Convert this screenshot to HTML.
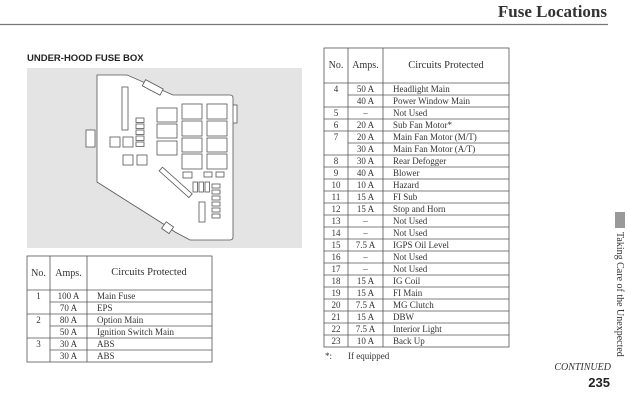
<!DOCTYPE html>
<html><head><style>
html,body{margin:0;padding:0;background:#fff;}
svg{display:block;}
.s{font-family:"Liberation Serif",serif;font-size:9px;fill:#333;}
.c{text-anchor:middle;}
</style></head><body>
<svg width="640" height="414" viewBox="0 0 640 414" xmlns="http://www.w3.org/2000/svg">
<text x="607" y="17" text-anchor="end" font-family="Liberation Serif,serif" font-weight="bold" font-size="17" fill="#333">Fuse Locations</text>
<line x1="0" y1="24.5" x2="608" y2="24.5" stroke="#777" stroke-width="1.2"/>
<text x="27" y="61" font-family="Liberation Sans,sans-serif" font-weight="bold" font-size="9.5" fill="#222">UNDER-HOOD FUSE BOX</text>
<rect x="27" y="68" width="275" height="180" fill="#e4e4e4"/>
<g fill="#fff" stroke="#555" stroke-width="0.8">
<rect x="86" y="130" width="9" height="17"/>
<rect x="231" y="105" width="6" height="18"/>
<path d="M97 75 L127 75 L173 95 L230 95 Q233 95 233 98 L233 237 Q233 240 230 240 L190 240 L175 232 L165 225 L97 182 Z"/>
<rect x="143" y="84" width="20" height="7" transform="rotate(28 153 87)"/>
<rect x="122" y="87" width="6" height="43"/>
<rect x="136" y="118" width="8" height="4.5"/><rect x="136" y="124" width="8" height="4.5"/><rect x="136" y="130" width="8" height="4.5"/><rect x="136" y="136" width="8" height="4.5"/><rect x="136" y="142" width="8" height="4.5"/>
<rect x="110" y="137" width="10" height="10"/><rect x="123" y="137" width="10" height="10"/>
<rect x="123" y="155" width="10" height="10"/><rect x="137" y="155" width="10" height="10"/>
<rect x="157" y="108" width="20" height="14"/><rect x="157" y="124" width="20" height="14"/><rect x="157" y="141" width="20" height="14"/>
<rect x="182" y="104" width="20" height="15"/><rect x="182" y="121" width="20" height="15"/><rect x="182" y="138" width="20" height="14"/><rect x="182" y="154" width="20" height="15"/>
<rect x="207" y="104" width="20" height="15"/><rect x="207" y="121" width="20" height="15"/><rect x="207" y="138" width="20" height="14"/><rect x="207" y="154" width="20" height="15"/>
<rect x="183" y="172" width="9" height="6"/><rect x="204" y="172" width="8" height="5"/><rect x="216" y="172" width="8" height="5"/>
<rect x="156" y="180" width="40" height="5" transform="rotate(42 176 182)"/>
<rect x="193" y="182" width="4.5" height="10"/><rect x="199" y="182" width="4.5" height="10"/><rect x="205" y="182" width="4.5" height="10"/>
<rect x="212" y="184" width="8" height="4"/><rect x="212" y="190" width="8" height="4"/><rect x="212" y="196" width="8" height="4"/><rect x="212" y="202" width="8" height="4"/><rect x="212" y="208" width="8" height="4"/><rect x="212" y="214" width="8" height="4"/>
<rect x="199" y="202" width="6" height="20"/>
<rect x="163" y="224" width="9" height="8" transform="rotate(35 168 228)"/>
</g>
<!-- left table -->
<g stroke="#555" stroke-width="0.8" fill="none">
<rect x="27" y="256" width="185" height="106"/>
<line x1="50" y1="256" x2="50" y2="362"/><line x1="87" y1="256" x2="87" y2="362"/>
<line x1="27" y1="290" x2="212" y2="290"/>
<line x1="50" y1="302" x2="212" y2="302"/>
<line x1="27" y1="314" x2="212" y2="314"/>
<line x1="50" y1="326" x2="212" y2="326"/>
<line x1="27" y1="338" x2="212" y2="338"/>
<line x1="50" y1="350" x2="212" y2="350"/>
</g>
<g class="s">
<text x="38.5" y="276" class="c" font-size="10">No.</text>
<text x="68.5" y="276" class="c" font-size="10">Amps.</text>
<text x="149" y="275" class="c" font-size="10.5">Circuits Protected</text>
<text x="38.5" y="299" class="c">1</text><text x="68.5" y="299" class="c">100 A</text><text x="97" y="299">Main Fuse</text>
<text x="68.5" y="311" class="c">70 A</text><text x="97" y="311">EPS</text>
<text x="38.5" y="323" class="c">2</text><text x="68.5" y="323" class="c">80 A</text><text x="97" y="323">Option Main</text>
<text x="68.5" y="335" class="c">50 A</text><text x="97" y="335">Ignition Switch Main</text>
<text x="38.5" y="347" class="c">3</text><text x="68.5" y="347" class="c">30 A</text><text x="97" y="347">ABS</text>
<text x="68.5" y="359" class="c">30 A</text><text x="97" y="359">ABS</text>
</g>
<!-- right table -->
<g stroke="#555" stroke-width="0.8" fill="none">
<rect x="324" y="48" width="185" height="299"/>
<line x1="348" y1="48" x2="348" y2="347"/><line x1="383" y1="48" x2="383" y2="347"/>
<line x1="324" y1="83" x2="509" y2="83"/>
<line x1="348" y1="95" x2="509" y2="95"/>
<line x1="324" y1="107" x2="509" y2="107"/>
<line x1="324" y1="119" x2="509" y2="119"/>
<line x1="324" y1="131" x2="509" y2="131"/>
<line x1="348" y1="143" x2="509" y2="143"/>
<line x1="324" y1="155" x2="509" y2="155"/>
<line x1="324" y1="167" x2="509" y2="167"/>
<line x1="324" y1="179" x2="509" y2="179"/>
<line x1="324" y1="191" x2="509" y2="191"/>
<line x1="324" y1="203" x2="509" y2="203"/>
<line x1="324" y1="215" x2="509" y2="215"/>
<line x1="324" y1="227" x2="509" y2="227"/>
<line x1="324" y1="239" x2="509" y2="239"/>
<line x1="324" y1="251" x2="509" y2="251"/>
<line x1="324" y1="263" x2="509" y2="263"/>
<line x1="324" y1="275" x2="509" y2="275"/>
<line x1="324" y1="287" x2="509" y2="287"/>
<line x1="324" y1="299" x2="509" y2="299"/>
<line x1="324" y1="311" x2="509" y2="311"/>
<line x1="324" y1="323" x2="509" y2="323"/>
<line x1="324" y1="335" x2="509" y2="335"/>
</g>
<g class="s">
<text x="336" y="68" class="c" font-size="10">No.</text>
<text x="365.5" y="68" class="c" font-size="10">Amps.</text>
<text x="446" y="68" class="c" font-size="10.5">Circuits Protected</text>
<text x="336" y="92" class="c">4</text><text x="365.5" y="92" class="c">50 A</text><text x="393" y="92">Headlight Main</text>
<text x="365.5" y="104" class="c">40 A</text><text x="393" y="104">Power Window Main</text>
<text x="336" y="116" class="c">5</text><text x="365.5" y="116" class="c">–</text><text x="393" y="116">Not Used</text>
<text x="336" y="128" class="c">6</text><text x="365.5" y="128" class="c">20 A</text><text x="393" y="128">Sub Fan Motor*</text>
<text x="336" y="140" class="c">7</text><text x="365.5" y="140" class="c">20 A</text><text x="393" y="140">Main Fan Motor (M/T)</text>
<text x="365.5" y="152" class="c">30 A</text><text x="393" y="152">Main Fan Motor (A/T)</text>
<text x="336" y="164" class="c">8</text><text x="365.5" y="164" class="c">30 A</text><text x="393" y="164">Rear Defogger</text>
<text x="336" y="176" class="c">9</text><text x="365.5" y="176" class="c">40 A</text><text x="393" y="176">Blower</text>
<text x="336" y="188" class="c">10</text><text x="365.5" y="188" class="c">10 A</text><text x="393" y="188">Hazard</text>
<text x="336" y="200" class="c">11</text><text x="365.5" y="200" class="c">15 A</text><text x="393" y="200">FI Sub</text>
<text x="336" y="212" class="c">12</text><text x="365.5" y="212" class="c">15 A</text><text x="393" y="212">Stop and Horn</text>
<text x="336" y="224" class="c">13</text><text x="365.5" y="224" class="c">–</text><text x="393" y="224">Not Used</text>
<text x="336" y="236" class="c">14</text><text x="365.5" y="236" class="c">–</text><text x="393" y="236">Not Used</text>
<text x="336" y="248" class="c">15</text><text x="365.5" y="248" class="c">7.5 A</text><text x="393" y="248">IGPS Oil Level</text>
<text x="336" y="260" class="c">16</text><text x="365.5" y="260" class="c">–</text><text x="393" y="260">Not Used</text>
<text x="336" y="272" class="c">17</text><text x="365.5" y="272" class="c">–</text><text x="393" y="272">Not Used</text>
<text x="336" y="284" class="c">18</text><text x="365.5" y="284" class="c">15 A</text><text x="393" y="284">IG Coil</text>
<text x="336" y="296" class="c">19</text><text x="365.5" y="296" class="c">15 A</text><text x="393" y="296">FI Main</text>
<text x="336" y="308" class="c">20</text><text x="365.5" y="308" class="c">7.5 A</text><text x="393" y="308">MG Clutch</text>
<text x="336" y="320" class="c">21</text><text x="365.5" y="320" class="c">15 A</text><text x="393" y="320">DBW</text>
<text x="336" y="332" class="c">22</text><text x="365.5" y="332" class="c">7.5 A</text><text x="393" y="332">Interior Light</text>
<text x="336" y="344" class="c">23</text><text x="365.5" y="344" class="c">10 A</text><text x="393" y="344">Back Up</text>
<text x="325" y="359">*:</text><text x="348" y="359">If equipped</text>
<text x="611" y="370" text-anchor="end" font-style="italic" font-size="10">CONTINUED</text>
</g>
<text x="610" y="387" text-anchor="end" font-family="Liberation Sans,sans-serif" font-weight="bold" font-size="13" fill="#222">235</text>
<rect x="615" y="212" width="10" height="16" fill="#999"/>
<text transform="translate(617 232) rotate(90)" font-family="Liberation Serif,serif" font-size="10" fill="#333">Taking Care of the Unexpected</text>
</svg>
</body></html>
